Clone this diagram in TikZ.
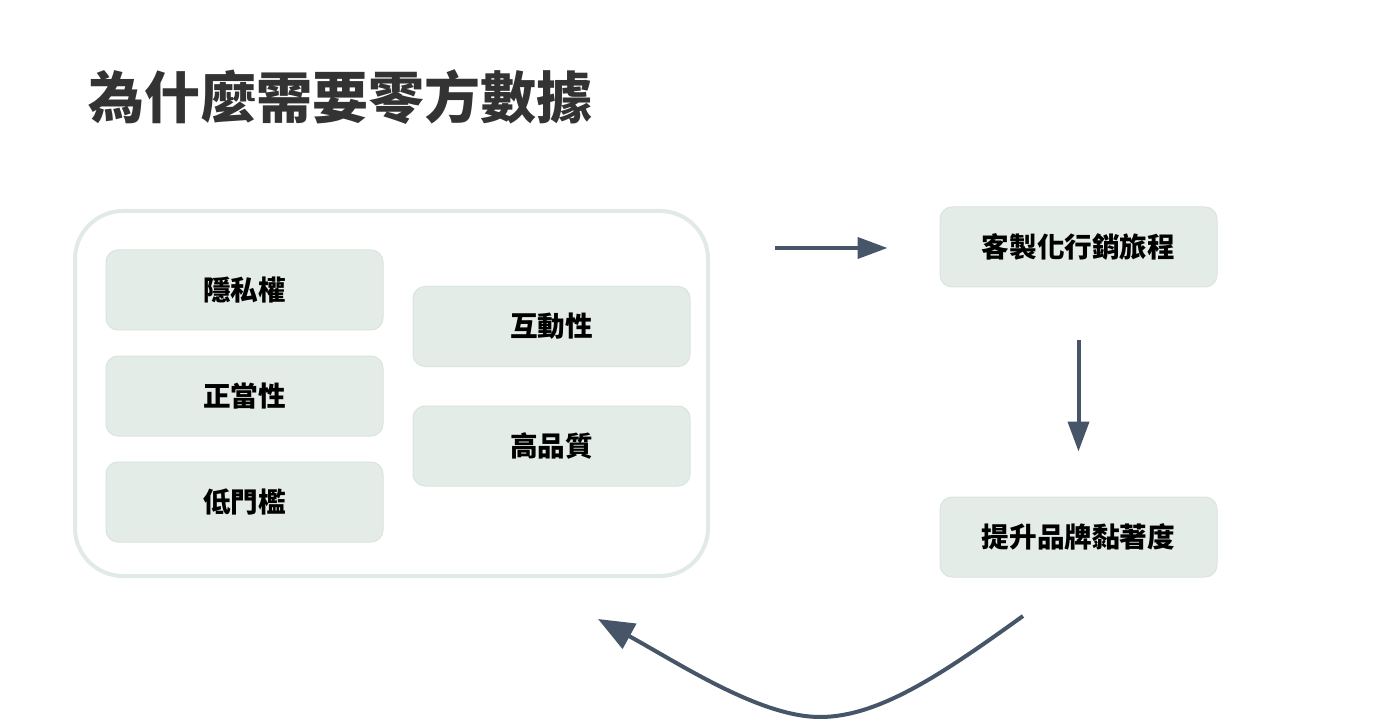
\documentclass[tikz,border=0pt]{standalone}
\usepackage{fontspec}
\setmainfont{Noto Sans CJK TC}
\usetikzlibrary{arrows.meta}
\definecolor{boxfill}{HTML}{E4ECE7}
\definecolor{boxline}{HTML}{DAE4DE}
\definecolor{rahmen}{HTML}{E1EAE5}
\definecolor{pfeil}{HTML}{475569}
\definecolor{titel}{HTML}{333333}
\tikzset{
  feld/.style={fill=boxfill, draw=boxline, line width=1pt, rounded corners=12pt,
    minimum width=277pt, minimum height=80pt, inner sep=0pt,
    font=\fontsize{27.6}{30}\selectfont\bfseries},
  pfeilspitze/.style={-{Triangle[length=30pt,width=21pt]}, draw=pfeil, line width=4pt},
}
\begin{document}
\begin{tikzpicture}[x=1pt, y=1pt]
    \useasboundingbox (0,0) rectangle (1400,724);
    % Titel
    \node[anchor=west, text=titel, inner sep=0pt, font=\fontsize{56}{60}\selectfont\bfseries] (titel) at (88,627) {為什麼需要零方數據};
    % Rahmen mit den Eigenschaften
    \node[draw=rahmen, line width=4pt, rounded corners=48pt, minimum width=633pt, minimum height=365pt] (rahmen) at (391.5,330.5) {};
    \node[feld] (privat) at (244.5,434) {隱私權};
    \node[feld] (recht) at (244.5,328) {正當性};
    \node[feld] (schwelle) at (244.5,222) {低門檻};
    \node[feld] (inter) at (551.5,397.5) {互動性};
    \node[feld] (qual) at (551.5,278) {高品質};
    % rechte Spalte
    \node[feld] (reise) at (1078.5,477) {客製化行銷旅程};
    \node[feld] (marke) at (1078.5,187) {提升品牌黏著度};
    % Pfeile
    \coordinate (start) at (775,476);
    \draw[pfeilspitze, shorten >=52pt] (start) -- (reise.west |- start);
    \draw[pfeilspitze, shorten <=53pt, shorten >=45pt] (reise.south) -- (marke.north);
    \coordinate (bogenA) at (1023,108);
    \coordinate (bogenM) at (820,7);
    \coordinate (bogenB) at (598,105);
    \draw[draw=pfeil, line width=4pt, -{Triangle[length=36pt,width=28pt]}]
      (bogenA) .. controls (945,52) and (880,7) .. (bogenM)
      .. controls (760,7) and (680,60) .. (bogenB);
\end{tikzpicture}
\end{document}
